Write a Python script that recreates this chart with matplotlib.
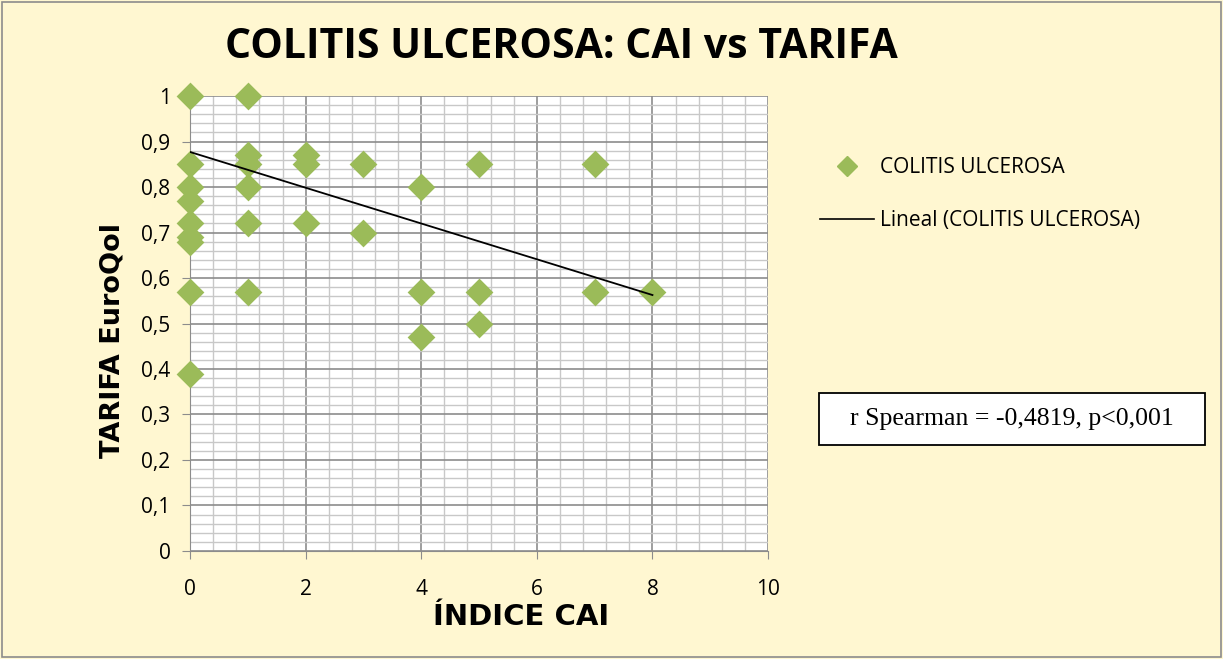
import numpy as np
import matplotlib.pyplot as plt
from matplotlib.ticker import MultipleLocator, FuncFormatter
from matplotlib.lines import Line2D

# CAI index vs EuroQol tariff
cai = [0, 0, 0, 0, 0, 0, 0, 0, 0,
       1, 1, 1, 1, 1, 1,
       2, 2, 2,
       3, 3,
       4, 4, 4,
       5, 5, 5,
       7, 7,
       8]
tarifa = [1.0, 0.85, 0.80, 0.77, 0.72, 0.69, 0.68, 0.57, 0.39,
          1.0, 0.87, 0.85, 0.80, 0.72, 0.57,
          0.87, 0.85, 0.72,
          0.85, 0.70,
          0.80, 0.57, 0.47,
          0.85, 0.57, 0.50,
          0.85, 0.57,
          0.57]

# Excel linear trend line (fit over the full sample)
trend_intercept = 0.877
trend_slope = -0.0393

series_name = 'COLITIS ULCEROSA'
stats_text = 'r Spearman = -0,4819, p<0,001'

bg = '#FFF7D1'
green = '#9BBB59'

fig = plt.figure(figsize=(12.23, 6.59), dpi=100, facecolor=bg)
ax = fig.add_axes([0.1554, 0.1639, 0.4726, 0.6904])
ax.set_facecolor('white')

x = np.array(cai, dtype=float)
y = np.array(tarifa)
ax.scatter(x, y, marker='D', s=200, color=green, zorder=3, clip_on=False, linewidths=0)

xl = np.array([x.min(), x.max()])
ax.plot(xl, trend_intercept + trend_slope * xl, color='black', lw=1.3, zorder=4)

ax.set_xlim(0, 10)
ax.set_ylim(0, 1)
ax.xaxis.set_major_locator(MultipleLocator(2))
ax.xaxis.set_minor_locator(MultipleLocator(0.4))
ax.yaxis.set_major_locator(MultipleLocator(0.1))
ax.yaxis.set_minor_locator(MultipleLocator(0.02))
ax.yaxis.set_major_formatter(FuncFormatter(lambda v, p: ('%g' % round(v, 2)).replace('.', ',')))

ax.grid(which='major', color='#8c8c8c', lw=1.2, zorder=0)
ax.grid(which='minor', color='#c8c8c8', lw=1.0, zorder=0)
ax.set_axisbelow(True)
for s in ['top', 'right']:
    ax.spines[s].set_visible(False)
for s in ['left', 'bottom']:
    ax.spines[s].set_color('#8c8c8c')
ax.tick_params(which='major', length=6, color='#8c8c8c', labelsize=15,
               labelfontfamily='Open Sans')
ax.tick_params(which='minor', length=0)
ax.tick_params(axis='x', pad=14)
ax.tick_params(axis='y', pad=8)

fig.text(0.459, 0.928, 'COLITIS ULCEROSA: CAI vs TARIFA', ha='center', va='center',
         fontsize=29.5, fontweight='bold', family='Open Sans')
fig.text(0.426, 0.063, 'ÍNDICE CAI', ha='center', va='center',
         fontsize=21, fontweight='heavy', family='DejaVu Sans')
fig.text(0.092, 0.484, 'TARIFA EuroQol', ha='center', va='center', rotation=90,
         fontsize=19.5, fontweight='heavy', family='DejaVu Sans')

handles = [Line2D([], [], marker='D', color=green, ls='', markersize=10),
           Line2D([], [], color='black', lw=1.2)]
fig.legend(handles, [series_name, 'Lineal (' + series_name + ')'],
           loc='upper left', bbox_to_anchor=(0.655, 0.79), frameon=False,
           handlelength=2.6, handletextpad=0.3, labelspacing=1.55,
           prop={'family': 'Open Sans', 'size': 15})

fig.patches.append(plt.Rectangle((0.6697, 0.3247), 0.3156, 0.0789, transform=fig.transFigure,
                                 fc='white', ec='black', lw=1.3))
fig.text(0.8275, 0.364, stats_text, ha='center', va='center', fontsize=18.5,
         family='Liberation Serif')

# outer border of the chart area
fig.patches.append(plt.Rectangle((0.002, 0.003), 0.996, 0.994, transform=fig.transFigure,
                                 fill=False, ec='#8c8c8c', lw=1.2))

plt.savefig('out.png', dpi=100, facecolor=bg)
